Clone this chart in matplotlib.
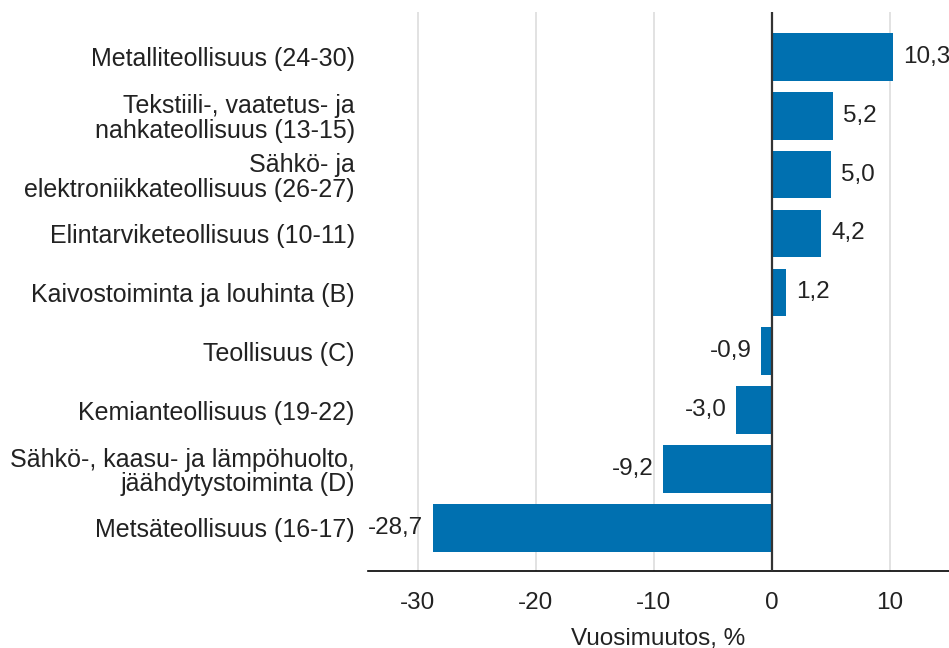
import matplotlib
matplotlib.use("Agg")
import matplotlib.pyplot as plt

categories = [
    "Metalliteollisuus (24-30)",
    "Tekstiili-, vaatetus- ja\nnahkateollisuus (13-15)",
    "Sähkö- ja\nelektroniikkateollisuus (26-27)",
    "Elintarviketeollisuus (10-11)",
    "Kaivostoiminta ja louhinta (B)",
    "Teollisuus (C)",
    "Kemianteollisuus (19-22)",
    "Sähkö-, kaasu- ja lämpöhuolto,\njäähdytystoiminta (D)",
    "Metsäteollisuus (16-17)",
]
values = [10.3, 5.2, 5.0, 4.2, 1.2, -0.9, -3.0, -9.2, -28.7]
xticks = [-30, -20, -10, 0, 10]
xlabel = "Vuosimuutos, %"

plt.rcParams['font.family'] = ['Liberation Sans', 'DejaVu Sans']
FS = 17.5

fig = plt.figure(figsize=(9.49, 6.48), dpi=100)
ax = fig.add_axes([368/949, 77/648, 1 - 368/949, (571 - 12)/648])

ypos = list(range(len(values)))
bars = ax.barh(ypos, values, height=0.81, color="#0070B0", zorder=2)
ax.set_ylim(len(values) - 1 + 0.73, -0.76)
ax.set_xlim(-34.2, 15.0)

ax.set_yticks(ypos)
ax.set_yticklabels(categories, fontsize=18, color="#222222", ha="right",
                   multialignment="right", linespacing=1.03)
ax.set_xticks(xticks)
ax.set_xticklabels([str(t) for t in xticks], fontsize=FS, color="#222222")
ax.tick_params(axis="both", length=0)
ax.tick_params(axis="y", pad=9.5)
ax.tick_params(axis="x", pad=15)
ax.set_xlabel(xlabel, fontsize=FS, color="#222222", labelpad=10)

for t in xticks:
    if t != 0:
        ax.axvline(t, color="#dddddd", lw=1.2, zorder=0)
ax.axvline(0, color="#333333", lw=1.6, zorder=3)

for s in ["top", "right", "left"]:
    ax.spines[s].set_visible(False)
ax.spines["bottom"].set_color("#000000")
ax.spines["bottom"].set_linewidth(1.2)

labels = [f"{v:.1f}".replace(".", ",") for v in values]
ax.bar_label(bars, labels=labels, padding=7, fontsize=FS, color="#222222")

fig.savefig("out.png", dpi=100)
